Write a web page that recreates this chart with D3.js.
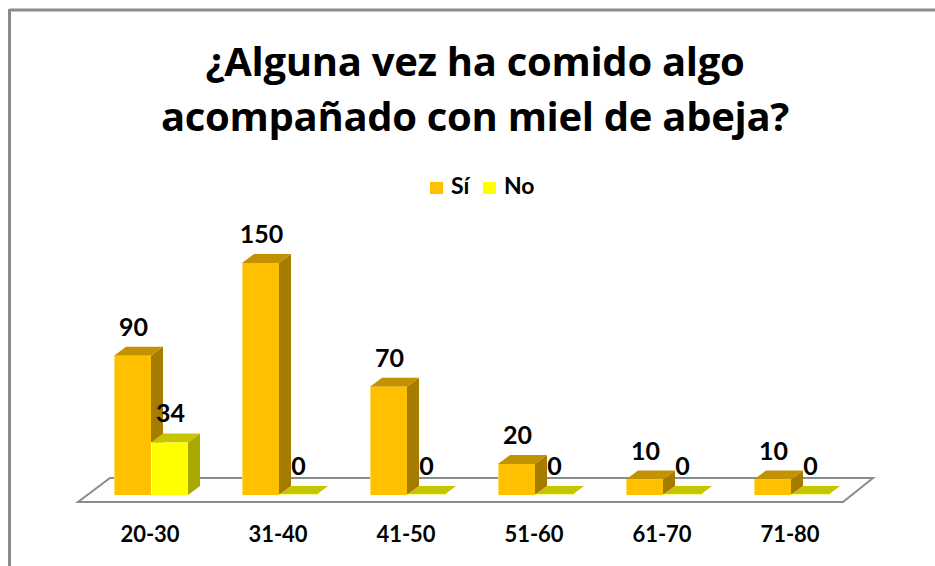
<!DOCTYPE html>
<html>
<head>
<meta charset="utf-8">
<script src="https://cdn.jsdelivr.net/npm/d3@7"></script>
<style>
  body { margin: 0; background: #fff; }
  text { font-family: Lato, "Open Sans", sans-serif; font-weight: bold; fill: #000; }
</style>
</head>
<body>
<div id="chart_div"></div>
<script>
// data
var categories = ["20-30", "31-40", "41-50", "51-60", "61-70", "71-80"];
var seriesNames = ["Sí", "No"];
var siValues = [90, 150, 70, 20, 10, 10];
var noValues = [34, 0, 0, 0, 0, 0];
var titleLines = ["¿Alguna vez ha comido algo", "acompañado con miel de abeja?"];

var svgextent = [935, 566];

var svg = d3.select("#chart_div").append("svg")
    .attr("width", svgextent[0])
    .attr("height", svgextent[1]);

// colours per series: front, top, side
var colors = {
  "Sí": { front: "#FFC000", top: "#C39200", side: "#A57B00", edge: "#FFD966" },
  "No": { front: "#FFFF00", top: "#C6C600", side: "#A8A800", edge: "#FFFF99" }
};

// depth of a bar (oblique projection)
var dx = 12, dy = -9;

var x = d3.scaleBand().domain(categories).range([86, 854]);
var xs = d3.scaleBand().domain(seriesNames).range([-36, 38]);
var y = d3.scaleLinear().domain([0, 150]).range([495, 263]);

// chart frame
svg.append("line").attr("x1", 9.5).attr("y1", 10).attr("x2", 935).attr("y2", 10)
    .style("stroke", "#8a8a8a").style("stroke-width", 3);
svg.append("line").attr("x1", 9.5).attr("y1", 9).attr("x2", 9.5).attr("y2", 566)
    .style("stroke", "#8a8a8a").style("stroke-width", 3);

// title
svg.append("g").selectAll("text")
    .data(titleLines)
    .enter().append("text")
    .attr("x", 475)
    .attr("y", function(d, i) { return 76 + i * 55; })
    .attr("text-anchor", "middle")
    .style("font-family", "'Open Sans', sans-serif")
    .style("font-size", "40px")
    .style("letter-spacing", "-0.3px")
    .text(function(d) { return d; });

// legend
var legend = svg.append("g").attr("transform", "translate(430,182)");
var legItem = legend.selectAll("g")
    .data(seriesNames)
    .enter().append("g")
    .attr("transform", function(d, i) { return "translate(" + (i * 53) + ",0)"; });
legItem.append("rect")
    .attr("width", 13).attr("height", 12)
    .style("fill", function(d) { return colors[d].front; });
legItem.append("text")
    .attr("x", 21).attr("y", 12)
    .style("font-size", "23px")
    .text(function(d) { return d; });

// floor
var x0 = x.range()[0], x1 = x.range()[1], base = y(0);
var floorPts = [[x0 - 8, base + 7], [x1 - 11, base + 7], [x1 + 19, base - 17], [x0 + 24, base - 17]];
svg.append("path")
    .attr("d", "M" + floorPts.join("L") + "Z")
    .style("fill", "#fdfdfd")
    .style("stroke", "#8c8c8c")
    .style("stroke-width", 2);

// bars
var barData = [];
categories.forEach(function(c, i) {
  barData.push({ cat: c, series: "Sí", value: siValues[i] });
  barData.push({ cat: c, series: "No", value: noValues[i] });
});

var bars = svg.append("g").selectAll("g")
    .data(barData)
    .enter().append("g");

function poly(pts) { return "M" + pts.join("L") + "Z"; }

bars.each(function(d) {
  var g = d3.select(this);
  var l = x(d.cat) + x.bandwidth() / 2 + xs(d.series);
  var r = l + xs.bandwidth();
  var t = y(d.value);
  var c = colors[d.series];
  // side
  g.append("path")
      .attr("d", poly([[r, base], [r + dx, base + dy], [r + dx, t + dy], [r, t]]))
      .style("fill", c.side);
  // top
  g.append("path")
      .attr("d", poly([[l, t], [r, t], [r + dx, t + dy], [l + dx, t + dy]]))
      .style("fill", c.top);
  if (d.value > 0) {
    // front
    g.append("rect")
        .attr("x", l).attr("y", t)
        .attr("width", r - l).attr("height", base - t)
        .style("fill", c.front);
    g.append("line")
        .attr("x1", l + 0.5).attr("x2", l + 0.5).attr("y1", t).attr("y2", base)
        .style("stroke", c.edge).style("stroke-width", 1);
  } else {
    g.append("line")
        .attr("x1", l).attr("x2", r).attr("y1", base - 0.5).attr("y2", base - 0.5)
        .style("stroke", c.edge).style("stroke-width", 1);
  }
  // value label
  g.append("text")
      .attr("x", (l + r) / 2 + 1)
      .attr("y", t - 20)
      .attr("text-anchor", "middle")
      .style("font-size", "25px")
      .text(d.value);
});

// category axis labels
var xAxis = d3.axisBottom(x).tickSize(0).tickPadding(0);
var axisG = svg.append("g")
    .attr("transform", "translate(0,526)")
    .call(xAxis);
axisG.select(".domain").remove();
axisG.selectAll("text")
    .attr("dy", "0.71em")
    .style("font-family", "Lato, sans-serif")
    .style("font-size", "22px")
    .style("font-weight", "bold")
    .style("fill", "#000");
</script>
</body>
</html>
